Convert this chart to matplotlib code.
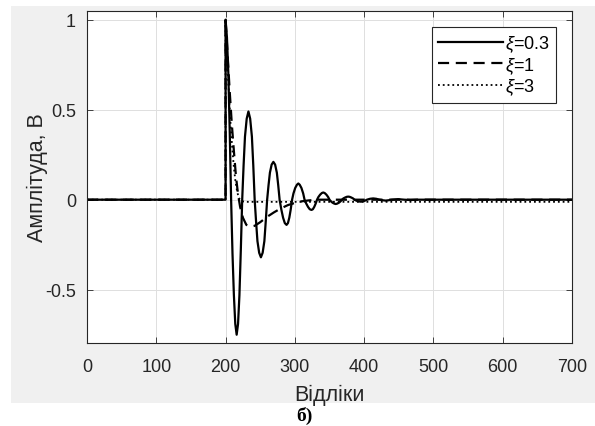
import numpy as np
import matplotlib
matplotlib.use('Agg')
import matplotlib.pyplot as plt
from matplotlib.patches import Rectangle

plt.rcParams['font.family'] = ['Liberation Sans', 'DejaVu Sans']
plt.rcParams['mathtext.fontset'] = 'custom'
plt.rcParams['mathtext.it'] = 'Liberation Sans:italic'
plt.rcParams['mathtext.rm'] = 'Liberation Sans'

# values (sample index, amplitude)
n_03 = [0, 200, 200, 202, 204, 206, 208, 210, 212, 214, 216, 218, 220, 222,
        224, 226, 228, 230.5, 233, 235.5, 238, 240, 242, 244, 246, 248.5,
        251, 253.5, 256, 258, 260, 262, 264, 266.5, 269, 271.5, 274, 276,
        278, 280.5, 283, 285.5, 288, 290, 292, 294, 296, 298, 300.5, 303,
        305, 307, 309.5, 312, 314, 316.5, 319, 321.5, 324, 326, 328, 330,
        332, 334, 336.5, 339, 341, 343, 345.5, 348, 350, 352, 354.5, 357,
        359, 361, 363.5, 366, 368, 370, 372.5, 375, 377, 379, 381.5, 384,
        386, 388, 390.5, 393, 395, 397, 399.5, 402, 404, 408.5, 413, 417.5,
        422, 426.5, 431, 435.5, 440, 449, 458, 467, 476, 700]
y_03 = [0, 0, 1.0, 0.90, 0.70, 0.38, 0.0, -0.30, -0.53, -0.69, -0.75, -0.69,
        -0.53, -0.28, 0.0, 0.19, 0.35, 0.45, 0.49, 0.45, 0.35, 0.19, 0.0,
        -0.12, -0.23, -0.295, -0.32, -0.295, -0.23, -0.12, 0.0, 0.08, 0.15,
        0.195, 0.21, 0.195, 0.15, 0.08, 0.0, -0.055, -0.10, -0.13, -0.14,
        -0.13, -0.10, -0.055, 0.0, 0.035, 0.065, 0.083, 0.09, 0.083, 0.065,
        0.035, 0.0, -0.022, -0.04, -0.053, -0.057, -0.053, -0.04, -0.022,
        0.0, 0.015, 0.028, 0.037, 0.04, 0.037, 0.028, 0.015, 0.0, -0.009,
        -0.017, -0.022, -0.024, -0.022, -0.017, -0.009, 0.0, 0.007, 0.012,
        0.016, 0.017, 0.016, 0.012, 0.007, 0.0, -0.004, -0.008, -0.01,
        -0.011, -0.01, -0.008, -0.004, 0.0, 0.005, 0.007, 0.005, 0.0,
        -0.003, -0.005, -0.003, 0.0, 0.003, 0.0, -0.002, 0.0, 0.0]

n_1 = [0, 200, 200, 203, 206, 209, 212, 215, 218, 221, 225, 230, 236, 242,
       250, 260, 270, 280, 290, 300, 310, 320, 335, 700]
y_1 = [0, 0, 1.0, 0.8, 0.6, 0.42, 0.27, 0.13, 0.03, -0.04, -0.1, -0.14, -0.15,
       -0.145, -0.125, -0.095, -0.07, -0.048, -0.03, -0.018, -0.009, -0.004, 0.0, 0.0]

n_3 = [0, 200, 200, 202, 204, 206, 208, 210, 212, 214, 216, 218, 220, 223,
       228, 700]
y_3 = [0, 0, 1.0, 0.82, 0.65, 0.5, 0.37, 0.27, 0.18, 0.11, 0.06, 0.025, 0.005,
       -0.008, -0.012, -0.012]

labels = [r'$\xi$=0.3', r'$\xi$=1', r'$\xi$=3']

W, H = 595, 427
fig = plt.figure(figsize=(W / 100, H / 100), dpi=100)
fig.patch.set_facecolor('white')
bg = Rectangle((11 / W, 1 - 404 / H), 584 / W, 397 / H,
               transform=fig.transFigure, facecolor='#f0f0f0',
               edgecolor='none', zorder=-10)
fig.add_artist(bg)

ax = fig.add_axes([87 / W, 1 - 344 / H, 485 / W, 332 / H])
ax.set_zorder(5)
dark = '#262626'
ax.plot(n_03, y_03, '-', color='black', lw=1.6, label=labels[0])
ax.plot(n_1, y_1, '--', color='black', lw=1.6, dashes=(5, 3), label=labels[1])
ax.plot(n_3, y_3, ':', color='black', lw=1.3, label=labels[2])

ax.set_xlim(0, 700)
ax.set_ylim(-0.796, 1.048)
ax.set_xticks(np.arange(0, 701, 100))
ax.set_yticks([-0.5, 0, 0.5, 1])
ax.set_yticklabels(['-0.5', '0', '0.5', '1'])
ax.grid(True, color='#dfdfdf', lw=0.7)
ax.set_axisbelow(True)
ax.tick_params(direction='in', length=4, width=0.6, colors=dark,
               labelsize=13, top=True, right=True)
ax.tick_params(axis='x', pad=11)
ax.tick_params(axis='y', pad=8)
for s in ax.spines.values():
    s.set_color(dark)
    s.set_linewidth(0.8)

ax.set_xlabel('Відліки', fontsize=15.5, color=dark, labelpad=6)
ax.set_ylabel('Амплітуда, В', fontsize=15.5, color=dark, labelpad=-2)

leg = ax.legend(loc='upper right', bbox_to_anchor=(0.967, 0.952), fontsize=13,
                handlelength=3.6, handletextpad=0.1, borderpad=0.35,
                labelspacing=0.05, borderaxespad=0, fancybox=False,
                framealpha=1)
leg.get_frame().set_edgecolor(dark)
leg.get_frame().set_linewidth(0.8)

fig.text(304 / W, 1 - 416 / H, 'б)', ha='center', va='center', fontsize=14,
         fontweight='bold', family='Liberation Serif')

fig.savefig('out.png', dpi=100)
